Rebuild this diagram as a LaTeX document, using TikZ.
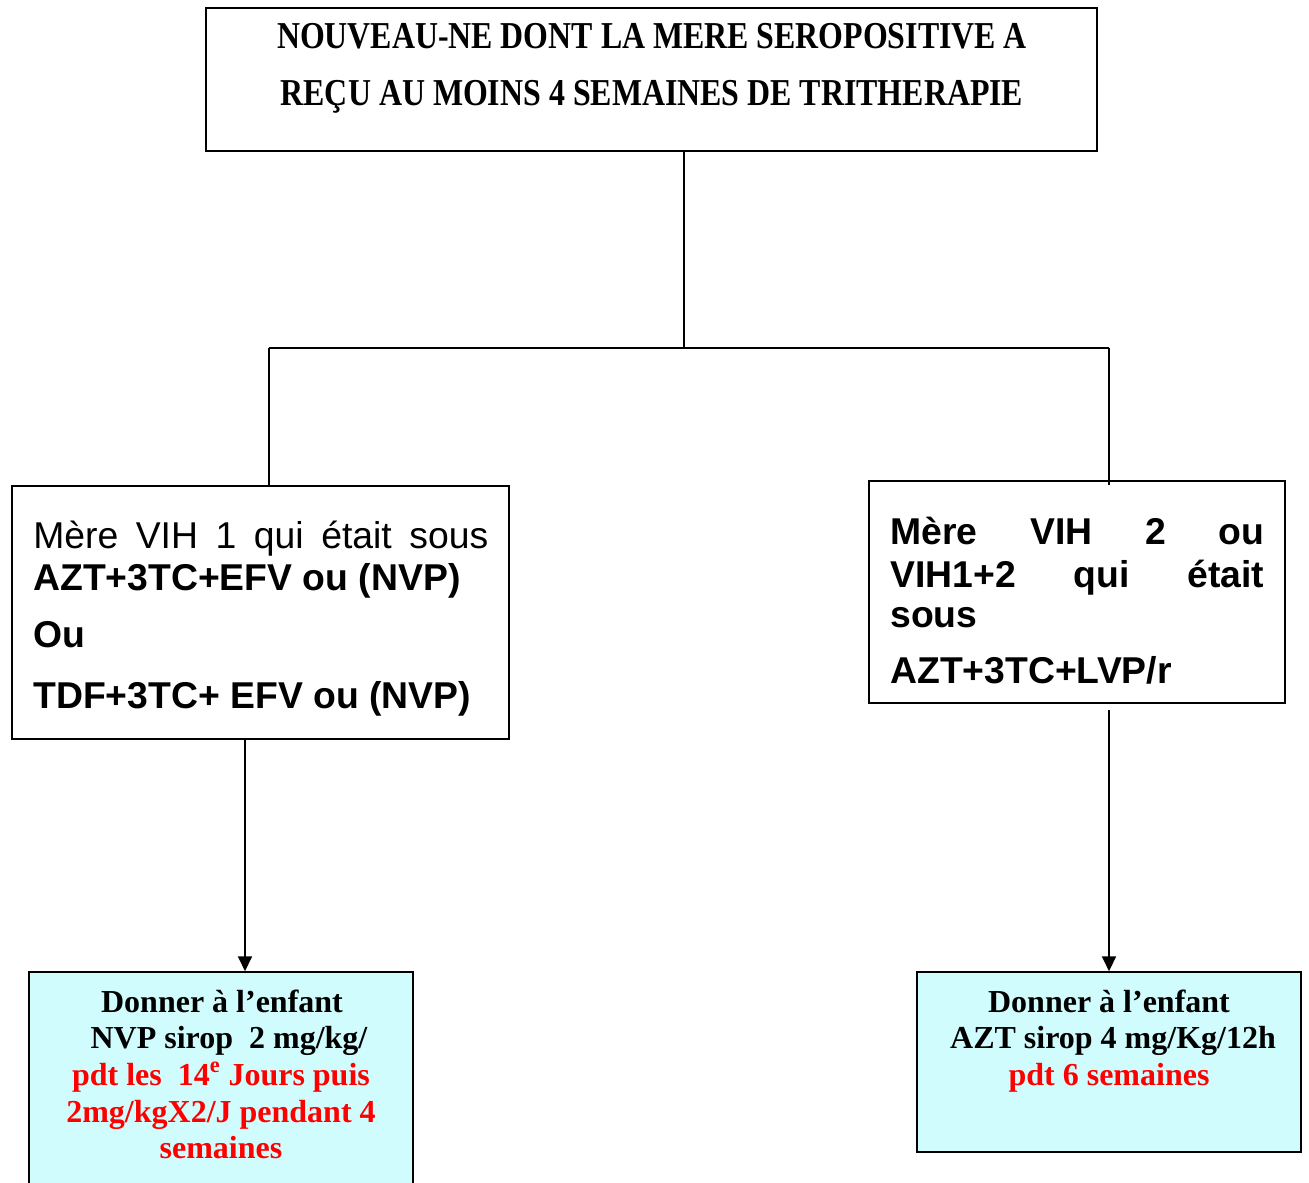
\documentclass[tikz,border=0pt]{standalone}
\usepackage{fontspec}
\usepackage{graphicx}
\usetikzlibrary{arrows.meta}
\newfontfamily\arialf{Liberation Sans}
\newfontfamily\tnrf{Liberation Serif}
\definecolor{lightcyan}{RGB}{208,252,254}
\definecolor{pureRed}{RGB}{255,0,0}
\tikzset{
  box/.style={draw=black, line width=1.3pt, inner sep=0pt, fill=white},
  cbox/.style={box, fill=lightcyan},
  conn/.style={line width=1.1pt, black},
  arr/.style={conn, -{Triangle[width=10.5pt,length=11pt]}},
  ltxt/.style={anchor=base west, inner sep=0pt, font=\arialf\fontsize{28}{32}\selectfont},
  ctxt/.style={anchor=base, inner sep=0pt, font=\tnrf\bfseries\fontsize{24}{27}\selectfont},
  ttxt/.style={anchor=base, inner sep=0pt, font=\tnrf\bfseries\fontsize{28.5}{30}\selectfont},
}
\begin{document}
\begin{tikzpicture}[x=0.75pt,y=-0.75pt]
\clip (0,0) rectangle (1309,1182);
\fill[white] (0,0) rectangle (1309,1182);

% boxes
\node[box, minimum width=668.25pt, minimum height=107.25pt] (top) at (651.5,79.5) {};
\node[box, minimum width=372.75pt, minimum height=189.75pt] (left) at (260.5,612.5) {};
\node[box, minimum width=312pt, minimum height=166.5pt] (right) at (1077,592) {};
\node[cbox, minimum width=288pt, minimum height=171pt] (bl) at (221,1086) {};
\node[cbox, minimum width=288pt, minimum height=135pt] (br) at (1109,1062) {};

% top text
\node[ttxt] (t1) at (652,48) {\resizebox{562.5pt}{\height}{NOUVEAU-NE DONT LA MERE SEROPOSITIVE A}};
\node[ttxt] (t2) at (652,105) {\resizebox{557pt}{\height}{REÇU AU MOINS 4 SEMAINES DE TRITHERAPIE}};

% left box text
\node[ltxt] (l1) at (33,548) {\hbox to 341.25pt{Mère\hfill VIH\hfill 1\hfill qui\hfill était\hfill sous}};
\node[ltxt] (l2) at (33,590) {\bfseries AZT+3TC+EFV ou (NVP)};
\node[ltxt] (l3) at (33,647) {\bfseries Ou};
\node[ltxt] (l4) at (33,708) {\bfseries TDF+3TC+ EFV ou (NVP)};

% right box text
\node[ltxt] (r1) at (890,544) {\bfseries\hbox to 280.5pt{Mère\hfill VIH\hfill 2\hfill ou}};
\node[ltxt] (r2) at (890,587) {\bfseries\hbox to 280.5pt{VIH1+2\hfill qui\hfill était}};
\node[ltxt] (r3) at (890,627) {\bfseries sous};
\node[ltxt] (r4) at (890,683) {\bfseries AZT+3TC+LVP/r};

% bottom-left text
\node[ctxt] (b1) at (222,1012) {Donner à l’enfant};
\node[ctxt] (b2) at (229,1048) {NVP sirop\ \ 2 mg/kg/};
\node[ctxt, text=pureRed] (b3) at (221,1085) {pdt les\ \ 14\textsuperscript{e} Jours puis};
\node[ctxt, text=pureRed] (b4) at (221,1122) {2mg/kgX2/J pendant 4};
\node[ctxt, text=pureRed] (b5) at (221,1158) {semaines};

% bottom-right text
\node[ctxt] (c1) at (1109,1012) {Donner à l’enfant};
\node[ctxt] (c2) at (1113,1048) {AZT sirop 4 mg/Kg/12h};
\node[ctxt, text=pureRed] (c3) at (1109,1085) {pdt 6 semaines};

% connectors
\coordinate (j) at (684,348);
\coordinate (jl) at (269,348);
\coordinate (jr) at (1109,348);
\coordinate (ltop) at (269,486);
\coordinate (rtop) at (1109,485);
\draw[conn] (top.south -| j) -- (j);
\draw[conn] (jl) -- (jr);
\draw[conn] (jl) -- (ltop);
\draw[conn] (jr) -- (rtop);
\coordinate (lbot) at (245,739);
\coordinate (rbot) at (1109,710);
\draw[arr] (lbot) -- (lbot |- bl.north);
\draw[arr] (rbot) -- (rbot |- br.north);
\end{tikzpicture}
\end{document}
